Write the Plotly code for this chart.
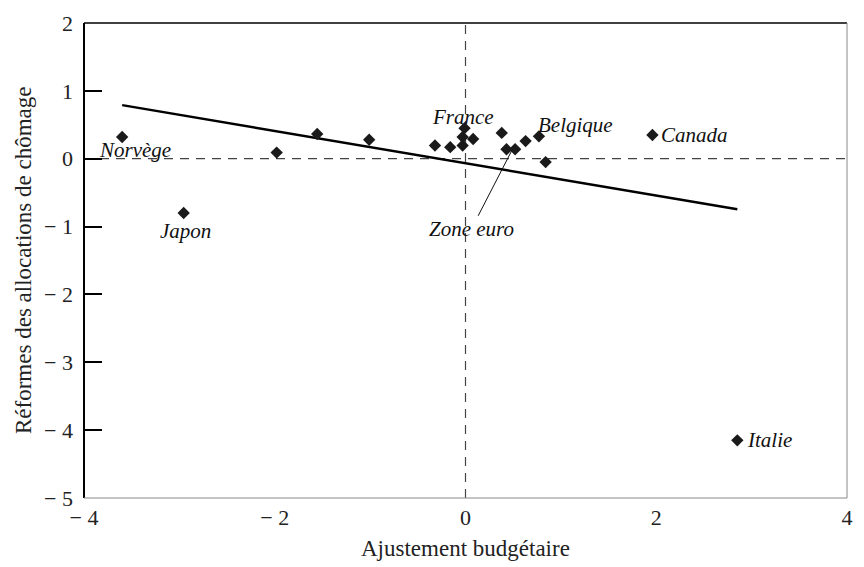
import plotly.graph_objects as go

# Data points (Ajustement budgétaire, Réformes des allocations de chômage)
pt_x = [-3.60, -2.955, -1.98, -1.555, -1.01, -0.32, -0.16, -0.01, -0.03, 0.08,
        -0.03, 0.38, 0.43, 0.52, 0.63, 0.77, 0.84, 1.96, 2.85]
pt_y = [0.32, -0.80, 0.09, 0.365, 0.28, 0.195, 0.17, 0.45, 0.32, 0.29,
        0.195, 0.38, 0.14, 0.14, 0.26, 0.33, -0.05, 0.35, -4.15]

# Trend line end points
trend_x = [-3.60, 2.85]
trend_y = [0.79, -0.745]

# Country labels
lab_text = ["Norvège", "Japon", "France", "Belgique", "Canada", "Italie"]
lab_x = [-3.47, -2.94, -0.03, 1.15, 2.03, 2.93]
lab_y = [0.13, -1.06, 0.61, 0.50, 0.35, -4.15]
lab_anchor = ["center", "center", "center", "center", "left", "left"]

# Zone euro callout
euro_label = "Zone euro"
euro_pt = (0.485, 0.12)
euro_txt = (0.06, -1.04)

x_ticks = [-4, -2, 0, 2, 4]
x_ticktext = ["\u2212 4", "\u2212 2", "0", "2", "4"]
y_ticks = [2, 1, 0, -1, -2, -3, -4, -5]
y_ticktext = ["2", "1", "0", "\u2212 1", "\u2212 2", "\u2212 3", "\u2212 4", "\u2212 5"]

x_title = "Ajustement budgétaire"
y_title = "Réformes des allocations de chômage"

FONT = "Liberation Serif, Times New Roman, serif"

fig = go.Figure()
fig.add_trace(go.Scatter(x=trend_x, y=trend_y, mode="lines",
                         line=dict(color="black", width=2.5), showlegend=False,
                         hoverinfo="skip"))
fig.add_trace(go.Scatter(x=pt_x, y=pt_y, mode="markers",
                         marker=dict(symbol="diamond", size=9.5, color="#1a1a1a",
                                     line=dict(width=0)),
                         showlegend=False))

fig.add_hline(y=0, line=dict(color="#444", width=1.2, dash="9px,7px"), layer="below")
fig.add_vline(x=0, line=dict(color="#444", width=1.2, dash="9px,7px"), layer="below")

for t, x, y, a in zip(lab_text, lab_x, lab_y, lab_anchor):
    fig.add_annotation(x=x, y=y, text="<i>" + t + "</i>", showarrow=False,
                       xanchor=a, yanchor="middle",
                       font=dict(family=FONT, size=21, color="#111"))

fig.add_annotation(x=euro_pt[0], y=euro_pt[1], ax=euro_txt[0], ay=euro_txt[1],
                   axref="x", ayref="y", text="<i>" + euro_label + "</i>",
                   showarrow=True, arrowhead=0, arrowwidth=1, arrowcolor="#111",
                   standoff=0, font=dict(family=FONT, size=21, color="#111"))

# Axis titles
fig.add_annotation(xref="paper", yref="paper", x=0.5, y=-0.1065,
                   text=x_title, showarrow=False, xanchor="center", yanchor="middle",
                   font=dict(family=FONT, size=23, color="#222"))
fig.add_annotation(xref="paper", yref="paper", x=-0.0793, y=0.5, textangle=-90,
                   text=y_title, showarrow=False, xanchor="center", yanchor="middle",
                   font=dict(family=FONT, size=23, color="#222"))

# Frame
fig.add_shape(type="line", xref="paper", yref="paper", x0=0, x1=0, y0=0, y1=1,
              line=dict(color="black", width=2))
fig.add_shape(type="line", xref="paper", yref="paper", x0=0, x1=1, y0=1, y1=1,
              line=dict(color="black", width=1.5))
fig.add_shape(type="line", xref="paper", yref="paper", x0=0, x1=1, y0=0, y1=0,
              line=dict(color="#888", width=1))
fig.add_shape(type="line", xref="paper", yref="paper", x0=1, x1=1, y0=0, y1=1,
              line=dict(color="#888", width=1))

fig.update_layout(
    width=864, height=567,
    margin=dict(l=84, r=11, t=19, b=69),
    paper_bgcolor="white", plot_bgcolor="white",
    font=dict(family=FONT, size=22, color="#222"),
    xaxis=dict(range=[-4, 4], tickvals=x_ticks, ticktext=x_ticktext,
               showgrid=False, zeroline=False, showline=False, ticks="",
               ticklabelstandoff=4),
    yaxis=dict(range=[-5, 2], tickvals=y_ticks, ticktext=y_ticktext,
               showgrid=False, zeroline=False, showline=False,
               ticks="inside", ticklen=18, tickwidth=1.5, tickcolor="black",
               ticklabelstandoff=10),
)

fig.write_html("out.html",
               config={"displayModeBar": False},
               post_script="document.body.style.margin='0';document.body.style.padding='0';"
                           "document.body.style.overflow='hidden';")
